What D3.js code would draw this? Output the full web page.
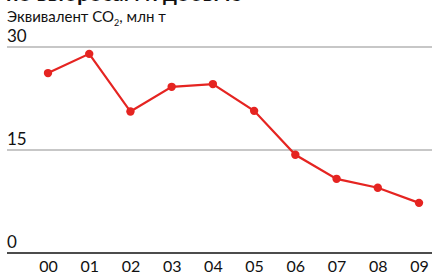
<!DOCTYPE html>
<html><head><meta charset="utf-8">
<script src="https://cdn.jsdelivr.net/npm/d3@7"></script>
<style>html,body{margin:0;padding:0;background:#fff;}svg{display:block;font-family:"Lato","Noto Sans",sans-serif;}</style>
</head><body>
<svg id="c" width="432" height="274"></svg>
<script>
const years = ["00","01","02","03","04","05","06","07","08","09"];
const values = [26.2, 29.0, 20.6, 24.2, 24.6, 20.7, 14.3, 10.8, 9.5, 7.3];
const yTicks = [0, 15, 30];
const title = "по выбросам и добыче";
const subtitle = "Эквивалент CO";

const svg = d3.select("#c");
const x = d3.scalePoint().domain(years).range([48, 419]);
const y = d3.scaleLinear().domain([0, 30]).range([253, 47]);

svg.append("text").attr("x", 6).attr("y", 1).attr("font-size", 22).attr("font-weight", 700).attr("fill", "#111").text(title);

const st = svg.append("text").attr("x", 7).attr("y", 22).attr("font-size", 15).attr("fill", "#111");
st.append("tspan").text(subtitle);
st.append("tspan").attr("font-size", 9).attr("dy", 4).text("2");
st.append("tspan").attr("dy", -4).text(", млн т");

// gridlines
svg.append("g").selectAll("line").data(yTicks).join("line")
  .attr("x1", 7).attr("x2", 432).attr("y1", d => y(d)).attr("y2", d => y(d))
  .attr("stroke", d => d === 0 ? "#111" : "#b5b5b5").attr("stroke-width", d => d === 0 ? 1.5 : 1.3);
svg.append("g").selectAll("text").data(yTicks).join("text")
  .attr("x", 7).attr("y", d => y(d) - 5).attr("font-size", 17).attr("fill", "#111").text(d => d);

// x axis labels
const xa = svg.append("g").attr("transform", "translate(0,253)")
  .call(d3.axisBottom(x).tickSize(0).tickPadding(8));
xa.select(".domain").remove();
xa.selectAll("text").attr("font-size", 16).attr("fill", "#111").attr("font-family", "Lato, 'Noto Sans', sans-serif");

const line = d3.line().x((d, i) => x(years[i])).y(d => y(d));
svg.append("path").datum(values).attr("d", line).attr("fill", "none").attr("stroke", "#e52421").attr("stroke-width", 2.2);
svg.append("g").selectAll("circle").data(values).join("circle")
  .attr("cx", (d, i) => x(years[i])).attr("cy", d => y(d)).attr("r", 4.2).attr("fill", "#e52421");
</script>
</body></html>
